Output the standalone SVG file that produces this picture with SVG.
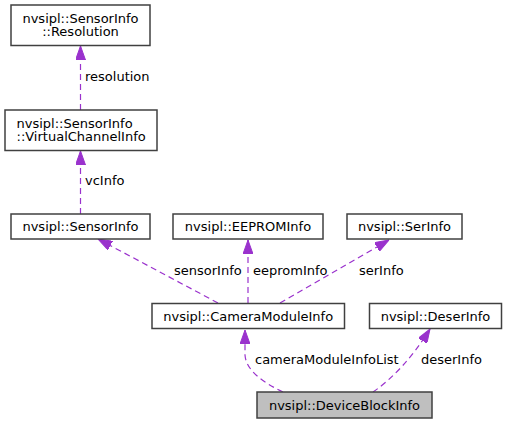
<svg xmlns="http://www.w3.org/2000/svg" width="507" height="424" viewBox="0 0 507 424">
<style>
  .box { fill: #ffffff; stroke: #404040; stroke-width: 1.5; }
  .cur { fill: #bfbfbf; stroke: #404040; stroke-width: 1.5; }
  text { font-family: "DejaVu Sans", sans-serif; font-size: 13px; fill: #000000; }
  .c { text-anchor: middle; }
  .edge { fill: none; stroke: #9a32cd; stroke-width: 1.2; stroke-dasharray: 6,4; }
</style>
<defs>
  <marker id="ah" viewBox="0 0 14 10" refX="14" refY="5" markerWidth="14" markerHeight="10" markerUnits="userSpaceOnUse" orient="auto">
    <path d="M0,0 L14,5 L0,10 z" fill="#9a32cd" stroke="#9a32cd" stroke-width="1"/>
  </marker>
</defs>
<rect width="507" height="424" fill="#ffffff"/>
<g id="connectors">
  <path class="edge" d="M80.5,110 L80.5,46" marker-end="url(#ah)"/>
  <text x="85" y="81">resolution</text>
  <path class="edge" d="M80.5,214 L80.5,151" marker-end="url(#ah)"/>
  <text x="85" y="185">vcInfo</text>
  <path class="edge" d="M218,303 L98,239" marker-end="url(#ah)"/>
  <text x="174" y="275">sensorInfo</text>
  <path class="edge" d="M248,303 L248,240" marker-end="url(#ah)"/>
  <text x="253" y="275">eepromInfo</text>
  <path class="edge" d="M280,303 L389,240" marker-end="url(#ah)"/>
  <text x="359" y="275">serInfo</text>
  <path class="edge" d="M283,392 C262,382 246,370 245,355 L245,330" marker-end="url(#ah)"/>
  <text x="255" y="364">cameraModuleInfoList</text>
  <path class="edge" d="M373,392 C392,379 412,358 430,329" marker-end="url(#ah)"/>
  <text x="421" y="364">deserInfo</text>
</g>
<g id="node-resolution">
  <rect class="box" x="11" y="5" width="139" height="40.5"/>
  <text class="c" x="80.5" y="22.5">nvsipl::SensorInfo</text>
  <text class="c" x="80.5" y="35.5">::Resolution</text>
</g>
<g id="node-vcinfo">
  <rect class="box" x="5" y="110" width="152" height="40.5"/>
  <text x="16.5" y="127.5">nvsipl::SensorInfo</text>
  <text x="16.5" y="140.5">::VirtualChannelInfo</text>
</g>
<g id="node-sensorinfo">
  <rect class="box" x="11" y="214" width="139" height="25"/>
  <text class="c" x="80.5" y="231">nvsipl::SensorInfo</text>
</g>
<g id="node-eeprominfo">
  <rect class="box" x="173" y="214" width="150" height="25"/>
  <text class="c" x="248" y="231">nvsipl::EEPROMInfo</text>
</g>
<g id="node-serinfo">
  <rect class="box" x="347" y="214" width="115" height="25"/>
  <text class="c" x="404.5" y="231">nvsipl::SerInfo</text>
</g>
<g id="node-cameramoduleinfo">
  <rect class="box" x="152" y="303.5" width="192.5" height="25"/>
  <text class="c" x="248.2" y="320.5">nvsipl::CameraModuleInfo</text>
</g>
<g id="node-deserinfo">
  <rect class="box" x="369.5" y="303.5" width="132" height="25"/>
  <text class="c" x="435.5" y="320.5">nvsipl::DeserInfo</text>
</g>
<g id="node-deviceblockinfo">
  <rect class="cur" x="257" y="392" width="175" height="26"/>
  <text class="c" x="344.5" y="409.5">nvsipl::DeviceBlockInfo</text>
</g>
</svg>
